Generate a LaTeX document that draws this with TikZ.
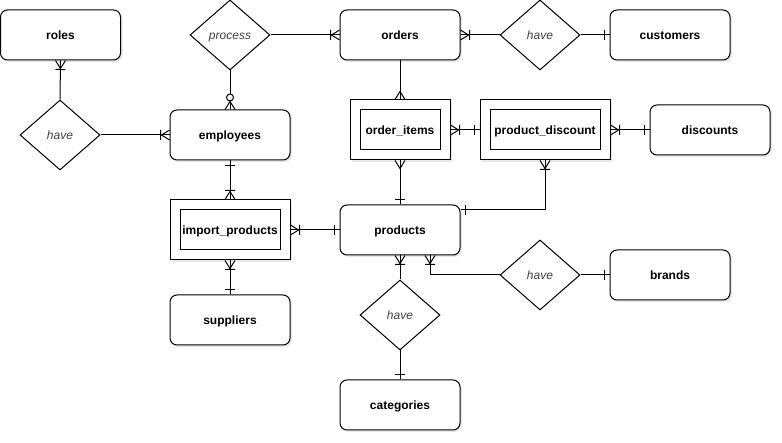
\documentclass[tikz,border=0pt]{standalone}
\usepackage{fontspec}
\setmainfont{Liberation Sans}
\usetikzlibrary{shapes.geometric,shadows}
\pgfarrowsdeclare{ercrow}{ercrow}{\pgfarrowsleftextend{-9pt}\pgfarrowsrightextend{0pt}}{%
  \pgfsetdash{}{0pt}\pgfsetmiterjoin
  \pgfpathmoveto{\pgfpoint{0pt}{5pt}}\pgfpathlineto{\pgfpoint{-8pt}{0pt}}\pgfpathlineto{\pgfpoint{0pt}{-5pt}}%
  \pgfusepathqstroke}
\pgfarrowsdeclare{ercrowbar}{ercrowbar}{\pgfarrowsleftextend{-10pt}\pgfarrowsrightextend{0pt}}{%
  \pgfsetdash{}{0pt}\pgfsetmiterjoin
  \pgfpathmoveto{\pgfpoint{0pt}{5pt}}\pgfpathlineto{\pgfpoint{-8pt}{0pt}}\pgfpathlineto{\pgfpoint{0pt}{-5pt}}%
  \pgfpathmoveto{\pgfpoint{-9pt}{5pt}}\pgfpathlineto{\pgfpoint{-9pt}{-5pt}}%
  \pgfusepathqstroke}
\pgfarrowsdeclare{erbar}{erbar}{\pgfarrowsleftextend{-6pt}\pgfarrowsrightextend{0pt}}{%
  \pgfsetdash{}{0pt}
  \pgfpathmoveto{\pgfpoint{-5pt}{5pt}}\pgfpathlineto{\pgfpoint{-5pt}{-5pt}}%
  \pgfusepathqstroke}
\pgfarrowsdeclare{erocrow}{erocrow}{\pgfarrowsleftextend{-17pt}\pgfarrowsrightextend{0pt}}{%
  \pgfsetdash{}{0pt}\pgfsetmiterjoin
  \pgfpathmoveto{\pgfpoint{0pt}{5pt}}\pgfpathlineto{\pgfpoint{-8pt}{0pt}}\pgfpathlineto{\pgfpoint{0pt}{-5pt}}%
  \pgfusepathqstroke
  \pgfsetfillcolor{white}%
  \pgfpathcircle{\pgfpoint{-12pt}{0pt}}{3.5pt}%
  \pgfusepathqfillstroke}
\begin{document}
\begin{tikzpicture}[x=1pt,y=-1pt,line width=1pt,
  shd/.style={drop shadow={opacity=0.18,shadow xshift=2pt,shadow yshift=-2pt}},
  txt/.style={text height=9pt,text depth=0pt},
  ent/.style={draw,rounded corners=7pt,minimum width=120pt,minimum height=50pt,
    fill=white,shd,font=\fontsize{12}{14}\selectfont\bfseries,inner sep=0pt,txt},
  rel/.style={draw,diamond,minimum width=80pt,minimum height=70pt,inner sep=0pt,
    fill=white,font=\fontsize{12}{14}\selectfont\itshape,text=black!75,txt},
  weakout/.style={draw,minimum height=60pt,fill=white,shd,inner sep=0pt},
  weakin/.style={draw,minimum height=40pt,inner sep=0pt,font=\fontsize{12}{14}\selectfont\bfseries,txt},
  conn/.style={draw,line width=1pt}]
\useasboundingbox (0,0) rectangle (782,443);
% entities
\node[ent] (roles) at (60.5,35) {roles};
\node[ent] (employees) at (230,135) {employees};
\node[ent] (orders) at (400,35) {orders};
\node[ent] (customers) at (670,35) {customers};
\node[ent] (discounts) at (710,130) {discounts};
\node[ent] (products) at (400,230) {products};
\node[ent] (brands) at (670,275) {brands};
\node[ent] (suppliers) at (230,320) {suppliers};
\node[ent] (categories) at (400,405) {categories};
% weak entities
\node[weakout,minimum width=100pt] (oi) at (400,130) {};
\node[weakin,minimum width=80pt] (oiin) at (400,130) {order\_items};
\node[weakout,minimum width=130pt] (pd) at (545,130) {};
\node[weakin,minimum width=110pt] (pdin) at (545,130) {product\_discount};
\node[weakout,minimum width=120pt] (ip) at (230,230) {};
\node[weakin,minimum width=100pt] (ipin) at (230,230) {import\_products};
% relationships
\node[rel] (process) at (230,35) {process};
\node[rel] (haveroles) at (60,135) {have};
\node[rel] (havecust) at (540,35) {have};
\node[rel] (havebrand) at (540,275) {have};
\node[rel] (havecat) at (400,315) {have};
% connectors
\draw[conn,-ercrowbar] (haveroles.north) -- (roles.south);
\draw[conn,-ercrowbar] (haveroles.east) -- (employees.west);
\draw[conn,-erocrow] (process.south) -- (employees.north);
\draw[conn,-ercrowbar] (process.east) -- (orders.west);
\draw[conn,-ercrowbar] (havecust.west) -- (orders.east);
\draw[conn,-erbar] (havecust.east) -- (customers.west);
\draw[conn,-ercrow] (orders.south) -- (oi.north);
\draw[conn,ercrowbar-erbar] (oi.east) -- (pd.west);
\draw[conn,ercrowbar-erbar] (pd.east) -- (discounts.west);
\draw[conn,ercrow-erbar] (oi.south) -- (products.north);
\draw[conn,erbar-ercrowbar] ([yshift=20pt]products.east) -| (pd.south);
\draw[conn,ercrowbar-erbar] (ip.east) -- (products.west);
\draw[conn,erbar-ercrowbar] (employees.south) -- (ip.north);
\draw[conn,ercrowbar-erbar] (ip.south) -- (suppliers.north);
\draw[conn,ercrowbar-] (products.south) -- (havecat.north);
\draw[conn,-erbar] (havecat.south) -- (categories.north);
\draw[conn,ercrowbar-] ([xshift=30pt]products.south) |- (havebrand.west);
\draw[conn,-erbar] (havebrand.east) -- (brands.west);
\end{tikzpicture}
\end{document}
